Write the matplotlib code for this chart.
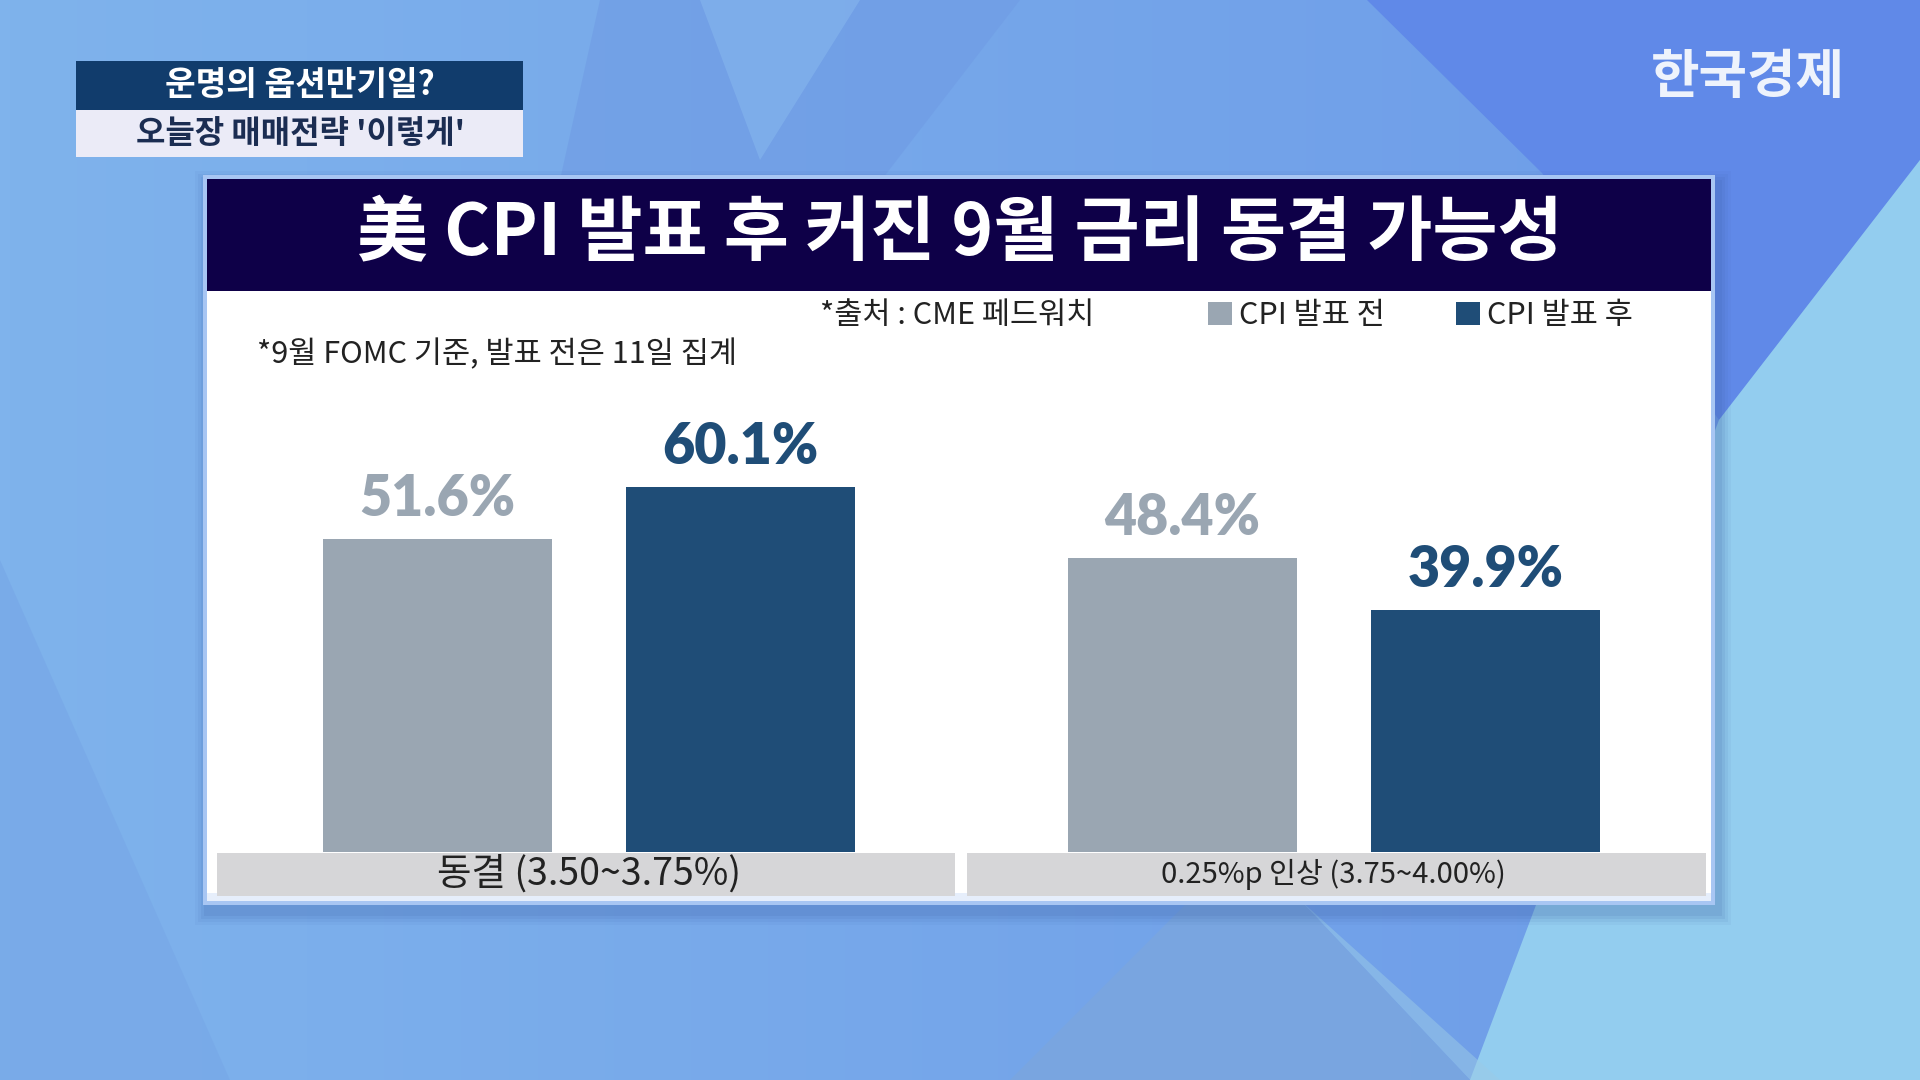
import matplotlib
matplotlib.use("Agg")
import matplotlib.pyplot as plt
import numpy as np
from matplotlib.patches import Rectangle, Polygon

plt.rcParams['font.family'] = ['Noto Sans CJK KR', 'DejaVu Sans']

# ---- data ----
title = "美 CPI 발표 후 커진 9월 금리 동결 가능성"
source_note = "*출처 : CME 페드워치"
base_note = "*9월 FOMC 기준, 발표 전은 11일 집계"
caption_top = "운명의 옵션만기일?"
caption_bottom = "오늘장 매매전략 '이렇게'"
logo = "한국경제"
categories = ["동결 (3.50~3.75%)", "0.25%p 인상 (3.75~4.00%)"]
series_names = ["CPI 발표 전", "CPI 발표 후"]
before_cpi = [51.6, 48.4]
after_cpi = [60.1, 39.9]

GRAY = "#9aa6b2"
NAVY = "#1f4d77"
TITLE_BG = "#0e0048"

W, H = 1920, 1080
fig = plt.figure(figsize=(19.2, 10.8), dpi=100)

# ---- background (pixel coordinates) ----
bg = fig.add_axes([0, 0, 1, 1], zorder=0)
bg.set_xlim(0, W)
bg.set_ylim(H, 0)
bg.axis('off')

gx = np.linspace(0, 1, 200)
gy = np.linspace(0, 1, 120)
X, Y = np.meshgrid(gx, gy)
c_left = np.array([0x7f, 0xb3, 0xec]) / 255
c_right = np.array([0x6c, 0x9a, 0xe8]) / 255
img = c_left[None, None, :] * (1 - X[..., None]) + c_right[None, None, :] * X[..., None]
bg.imshow(img, extent=[0, W, H, 0], aspect='auto', zorder=0)

# diagonal shapes
bg.add_patch(Polygon([(1367, 0), (W, 0), (W, 160), (1719, 420), (1542, 173)],
                     closed=True, fc="#6089e8", ec='none', zorder=1))
bg.add_patch(Polygon([(W, 160), (W, H), (1470, H), (1719, 420)],
                     closed=True, fc="#93cdef", ec='none', zorder=1))
bg.add_patch(Polygon([(1300, 900), (1500, H), (1470, H)],
                     closed=True, fc="#9ccbe6", ec='none', alpha=0.5, zorder=1))
bg.add_patch(Polygon([(1190, 900), (1300, 900), (1470, H), (1010, H)],
                     closed=True, fc="#7aa6e0", ec='none', alpha=0.9, zorder=1))
bg.add_patch(Polygon([(0, 560), (0, H), (230, H)],
                     closed=True, fc="#78a9e8", ec='none', alpha=0.8, zorder=1))
bg.add_patch(Polygon([(600, 0), (1020, 0), (820, 260), (560, 180)],
                     closed=True, fc="#6f9be4", ec='none', alpha=0.6, zorder=1))
bg.add_patch(Polygon([(700, 0), (860, 0), (760, 160)],
                     closed=True, fc="#86b6ee", ec='none', alpha=0.6, zorder=1))

# caption box top-left
bg.add_patch(Rectangle((76, 61), 447, 49, fc="#113c6c", ec='none', zorder=3))
bg.add_patch(Rectangle((76, 110), 447, 47, fc="#ebebf7", ec='none', zorder=3))
bg.text(300, 86, caption_top, color='white', fontsize=24, ha='center', va='center',
        fontweight='bold', zorder=4)
bg.text(300, 134, caption_bottom, color='#1b2d52', fontsize=23, ha='center', va='center',
        fontweight='bold', zorder=4)

# logo
bg.text(1748, 78, logo, color='#eef3fc', fontsize=38, ha='center', va='center',
        fontweight='bold', zorder=4)

# panel with soft shadow / border
for i, a in enumerate([0.06, 0.08, 0.10, 0.12]):
    g = 12 - 3 * i
    bg.add_patch(Rectangle((203 - g + 4, 175 - g + 8), 1512 + 2 * g, 730 + 2 * g,
                           fc="#3f63a8", ec='none', alpha=a, zorder=2))
bg.add_patch(Rectangle((203, 175), 1512, 730, fc="#a8c6f3", ec='none', zorder=3))
bg.add_patch(Rectangle((207, 179), 1504, 722, fc="white", ec='none', zorder=3))
bg.add_patch(Rectangle((207, 179), 1504, 112, fc=TITLE_BG, ec='none', zorder=4))
bg.add_patch(Rectangle((207, 893), 1504, 8, fc="#e6eefb", ec='none', zorder=4))
bg.text(960, 234, title, color='white', fontsize=51, ha='center', va='center',
        fontweight='heavy', zorder=5)

# category label boxes
bg.add_patch(Rectangle((217, 853), 738, 43, fc="#d6d6d8", ec='none', zorder=4))
bg.add_patch(Rectangle((967, 853), 739, 43, fc="#d6d6d8", ec='none', zorder=4))

# notes
bg.text(820, 316, source_note, color='#222222', fontsize=22, ha='left', va='center', zorder=5)
bg.text(257, 355, base_note, color='#222222', fontsize=22, ha='left', va='center', zorder=5)

# ---- bar chart ----
ax_left, ax_right = 217, 1706
ax_bottom_px, ax_top_px = 852, 852 - 6.075 * 80
ax = fig.add_axes([ax_left / W, 1 - ax_bottom_px / H,
                   (ax_right - ax_left) / W, (ax_bottom_px - ax_top_px) / H], zorder=5)
ax.set_facecolor('none')
ax.set_xlim(-0.5, 1.5)
ax.set_ylim(0, 80)
ax.axis('off')

x = np.arange(len(categories))
off = 0.2036
bw = 0.3078
b1 = ax.bar(x - off, before_cpi, bw, color=GRAY, label=series_names[0])
b2 = ax.bar(x + off, after_cpi, bw, color=NAVY, label=series_names[1])
ax.bar_label(b1, labels=[f"{v:.1f}%" for v in before_cpi], padding=10, color=GRAY,
             fontsize=40, fontweight='heavy', family=['Lato', 'DejaVu Sans'])
ax.bar_label(b2, labels=[f"{v:.1f}%" for v in after_cpi], padding=10, color=NAVY,
             fontsize=40, fontweight='heavy', family=['Lato', 'DejaVu Sans'])

cat_sizes = [27, 21]
for xi, lab, fs in zip(x, categories, cat_sizes):
    ax.text(xi, -3.7, lab, ha='center', va='center', fontsize=fs, color='#222222',
            clip_on=False)

leg = fig.legend(handles=[b1, b2], labels=series_names, loc='center left',
                 bbox_to_anchor=(1208 / W, 1 - 316 / H), ncol=2, frameon=False,
                 fontsize=22, handlelength=0.78, handleheight=0.78, handletextpad=0.22,
                 columnspacing=2.35, borderpad=0, borderaxespad=0, labelcolor='#222222')
leg.set_zorder(6)

fig.savefig("out.png", dpi=100)
